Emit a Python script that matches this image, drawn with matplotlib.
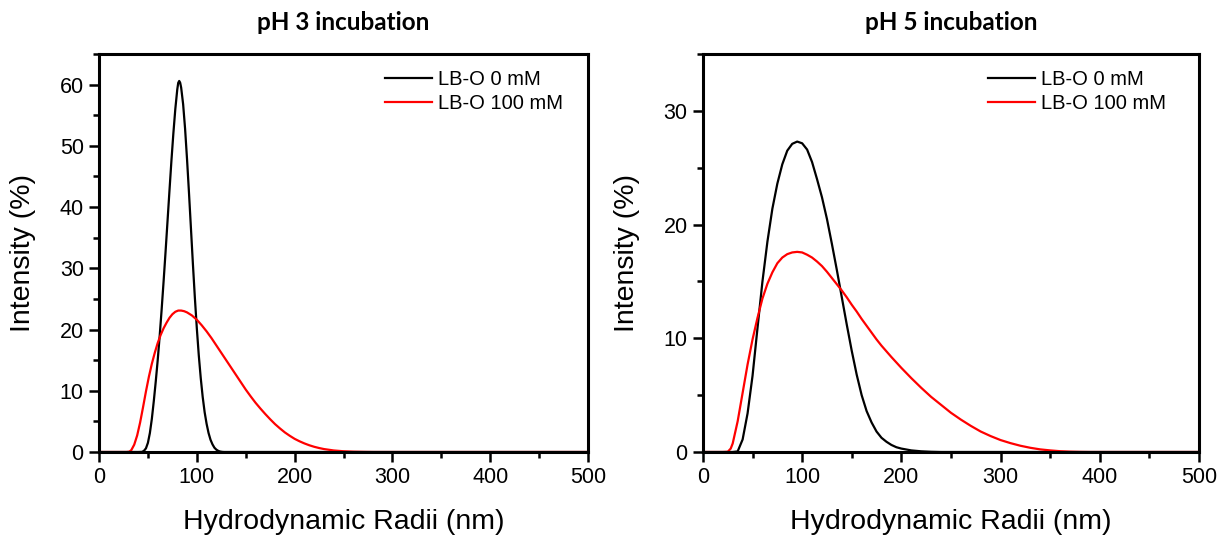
import matplotlib
matplotlib.use("Agg")
import matplotlib.pyplot as plt
from matplotlib.ticker import MultipleLocator

plt.rcParams['font.family'] = ['Liberation Sans', 'DejaVu Sans']

# pH 3 incubation
ph3_black_x = [0, 40, 44, 46, 48, 50, 52, 54, 56, 58, 60, 62, 64, 66, 68, 70, 72, 74, 76, 78, 80, 81, 82, 83,
               84, 86, 88, 90, 92, 94, 96, 98, 100, 102, 104, 106, 108, 110, 112, 114, 116, 118, 120, 122,
               124, 126, 128, 500]
ph3_black_y = [0, 0, 0.02, 0.2, 0.6, 1.5, 3.1, 5.4, 8.3, 11.5, 15.0, 18.9, 23.2, 27.8, 32.6, 37.6, 42.6, 47.5, 52.0,
               56.0, 59.2, 60.3, 60.6, 60.3, 59.5, 56.8, 52.8, 47.8, 42.3, 36.5, 30.7, 25.2, 20.2, 15.8, 12.1, 9.0,
               6.5, 4.6, 3.1, 2.0, 1.25, 0.7, 0.38, 0.18, 0.07, 0.02, 0, 0]
ph3_red_x = [0, 28, 31, 33, 36, 39, 42, 45, 48, 51, 54, 57, 60, 63, 66, 69, 72, 75, 78, 81, 84, 87, 90, 95,
             100, 105, 110, 115, 120, 125, 130, 135, 140, 145, 150, 155, 160, 165, 170, 175, 180, 185, 190,
             195, 200, 205, 210, 215, 220, 225, 230, 240, 250, 260, 270, 280, 500]
ph3_red_y = [0, 0, 0.05, 0.3, 1.2, 2.7, 4.8, 7.3, 9.9, 12.3, 14.4, 16.2, 17.8, 19.1, 20.2, 21.1, 21.9, 22.5, 22.9,
             23.1, 23.1, 23.0, 22.8, 22.3, 21.6, 20.7, 19.7, 18.6, 17.4, 16.2, 15.0, 13.8, 12.6, 11.4, 10.2, 9.1,
             8.05, 7.1, 6.2, 5.35, 4.55, 3.85, 3.2, 2.65, 2.15, 1.75, 1.4, 1.1, 0.85, 0.65, 0.48, 0.25, 0.12,
             0.05, 0.02, 0, 0]

# pH 5 incubation
ph5_black_x = [0, 30, 35, 40, 45, 50, 55, 60, 65, 70, 75, 80, 85, 90, 95, 100, 105, 110, 115, 120, 125, 130,
               135, 140, 145, 150, 155, 160, 165, 170, 175, 180, 185, 190, 195, 200, 210, 220, 230, 240, 500]
ph5_black_y = [0, 0, 0.05, 1.1, 3.4, 6.7, 10.9, 15.0, 18.5, 21.4, 23.6, 25.3, 26.5, 27.1, 27.3, 27.15, 26.6,
               25.5, 24.0, 22.4, 20.5, 18.3, 16.0, 13.6, 11.2, 8.9, 6.8, 5.0, 3.6, 2.6, 1.8, 1.25, 0.9, 0.62,
               0.42, 0.3, 0.14, 0.06, 0.02, 0, 0]
ph5_red_x = [0, 20, 25, 28, 30, 35, 40, 45, 50, 55, 60, 65, 70, 75, 80, 85, 90, 95, 100, 105, 110, 115, 120,
             125, 130, 135, 140, 145, 150, 155, 160, 165, 170, 175, 180, 190, 200, 210, 220, 230, 240, 250,
             260, 270, 280, 290, 300, 310, 320, 330, 340, 350, 360, 370, 380, 390, 500]
ph5_red_y = [0, 0, 0.02, 0.3, 0.75, 2.7, 5.2, 7.7, 9.9, 11.8, 13.5, 14.8, 15.8, 16.6, 17.1, 17.4, 17.55, 17.6,
             17.55, 17.35, 17.1, 16.75, 16.35, 15.85, 15.3, 14.75, 14.2, 13.6, 12.95, 12.35, 11.7, 11.1, 10.5,
             9.9, 9.35, 8.35, 7.4, 6.5, 5.65, 4.85, 4.15, 3.45, 2.85, 2.3, 1.8, 1.4, 1.05, 0.78, 0.55, 0.37,
             0.23, 0.14, 0.07, 0.03, 0.01, 0, 0]

labels = ["LB-O 0 mM", "LB-O 100 mM"]
titles = ["pH 3 incubation", "pH 5 incubation"]

fig = plt.figure(figsize=(12.24, 5.37), dpi=100)
ax1 = fig.add_axes([0.0809, 0.1583, 0.3995, 0.7411])
ax2 = fig.add_axes([0.5743, 0.1583, 0.4052, 0.7411])

panels = [
    (ax1, ph3_black_x, ph3_black_y, ph3_red_x, ph3_red_y, 65, 0.585),
    (ax2, ph5_black_x, ph5_black_y, ph5_red_x, ph5_red_y, 35, 0.575),
]

for i, (ax, bx, by, rx, ry, ytop, legx) in enumerate(panels):
    ax.plot(bx, by, color='black', lw=1.6, label=labels[0])
    ax.plot(rx, ry, color='red', lw=1.6, label=labels[1])
    ax.set_xlim(0, 500)
    ax.set_ylim(0, ytop)
    ax.xaxis.set_major_locator(MultipleLocator(100))
    ax.xaxis.set_minor_locator(MultipleLocator(50))
    ax.yaxis.set_major_locator(MultipleLocator(10))
    ax.yaxis.set_minor_locator(MultipleLocator(5))
    ax.tick_params(which='major', direction='out', length=7, width=1.8, labelsize=15.5, pad=4)
    ax.tick_params(which='minor', direction='out', length=4, width=1.8)
    for sp in ax.spines.values():
        sp.set_linewidth(2.2)
    ax.set_xlabel("Hydrodynamic Radii (nm)", fontsize=20.5, labelpad=15)
    ax.set_ylabel("Intensity (%)", fontsize=20.5, labelpad=17)
    ax.set_title(titles[i], fontsize=17.5, fontweight='bold', family=['Lato', 'DejaVu Sans'], pad=17)
    ax.legend(loc='upper left', bbox_to_anchor=(legx, 0.96), frameon=False, fontsize=14.5,
              handlelength=2.35, handletextpad=0.3, labelspacing=0.25, borderpad=0, borderaxespad=0)

fig.savefig("out.png", dpi=100)
